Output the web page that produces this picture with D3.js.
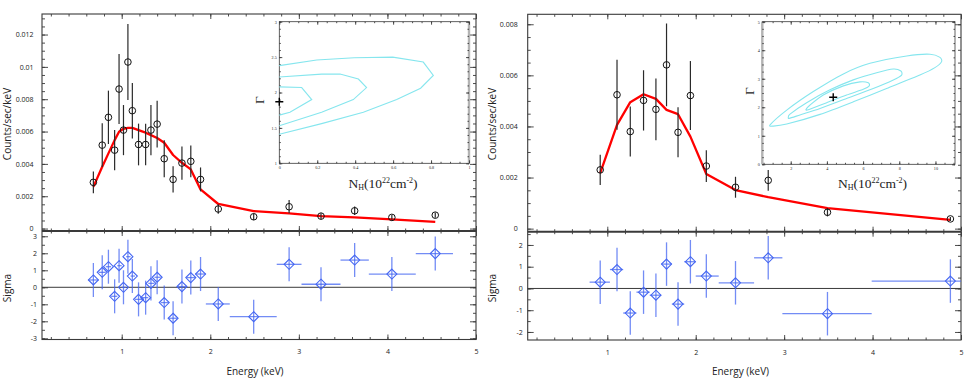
<!DOCTYPE html>
<html>
<head>
<meta charset="utf-8">
<script src="https://cdn.jsdelivr.net/npm/d3@7"></script>
<style>
  body { margin: 0; background: #fff; }
  svg { display: block; font-family: "Open Sans", sans-serif; }
</style>
</head>
<body>
<script>
// ---- left source: spectrum (counts/sec/keV), model and residuals ----
var leftEnergy   = [0.68, 0.78, 0.85, 0.92, 0.97, 1.02, 1.07, 1.12, 1.19, 1.27, 1.33, 1.40, 1.48, 1.58, 1.68, 1.78, 1.89, 2.09, 2.49, 2.89, 3.25, 3.63, 4.05, 4.54];
var leftBinEdges = [0.62, 0.74, 0.82, 0.88, 0.95, 1.00, 1.05, 1.10, 1.15, 1.23, 1.30, 1.37, 1.44, 1.53, 1.63, 1.73, 1.83, 1.95, 2.22, 2.75, 3.03, 3.47, 3.79, 4.32, 4.74];
var leftRate     = [0.00286, 0.00516, 0.00688, 0.00485, 0.00863, 0.00609, 0.0103, 0.00729, 0.0052, 0.0052, 0.00609, 0.00646, 0.00432, 0.00304, 0.00405, 0.00416, 0.00304, 0.00121, 0.00073, 0.00135, 0.00077, 0.0011, 0.00069, 0.00083];
var leftRateErr  = [0.00067, 0.00135, 0.00165, 0.00124, 0.00217, 0.00155, 0.00235, 0.00172, 0.00129, 0.00129, 0.00155, 0.00145, 0.00114, 0.00081, 0.00103, 0.00098, 0.00074, 0.00029, 0.0002, 0.00041, 0.00018, 0.00026, 0.00015, 0.00016];
var leftModel    = [0.00258, 0.00382, 0.00465, 0.00547, 0.00599, 0.00617, 0.00623, 0.00623, 0.00609, 0.00593, 0.00578, 0.0056, 0.00531, 0.00455, 0.00407, 0.00366, 0.00242, 0.00152, 0.00108, 0.00094, 0.00077, 0.00069, 0.00057, 0.00042];
var leftSigma    = [0.43, 0.88, 1.21, -0.53, 1.27, 0.0, 1.8, 0.66, -0.71, -0.61, 0.23, 0.59, -0.9, -1.82, 0.04, 0.57, 0.78, -0.98, -1.73, 1.35, 0.18, 1.6, 0.78, 1.98];
var leftRateTicks  = [0, 0.002, 0.004, 0.006, 0.008, 0.01, 0.012];
var leftSigmaTicks = [-3, -2, -1, 0, 1, 2, 3];

// left inset: confidence contours in (NH, Gamma)
var leftContourOuter = [[0, 2.38], [0.197, 2.46], [0.395, 2.49], [0.598, 2.50], [0.759, 2.43], [0.812, 2.24], [0.745, 2.06], [0.619, 1.90], [0.443, 1.72], [0.223, 1.56], [0, 1.41]];
var leftContourMid   = [[0, 2.22], [0.223, 2.26], [0.32, 2.26], [0.417, 2.19], [0.46, 2.07], [0.39, 1.90], [0.223, 1.72], [0, 1.53]];
var leftContourInner = [[0, 2.08], [0.118, 2.07], [0.171, 1.90], [0.056, 1.72], [0, 1.68]];
var leftBestFit  = [0, 1.87];
var leftNhTicks    = [0, 0.2, 0.4, 0.6, 0.8, 1];
var leftGammaTicks = [1, 1.5, 2, 2.5, 3];

// ---- right source ----
var rightEnergy   = [0.92, 1.11, 1.26, 1.41, 1.55, 1.67, 1.80, 1.94, 2.12, 2.45, 2.82, 3.49, 4.88];
var rightBinEdges = [0.80, 1.03, 1.18, 1.33, 1.48, 1.61, 1.73, 1.87, 2.00, 2.26, 2.66, 2.98, 3.99, 5.00];
var rightRate     = [0.0023, 0.00524, 0.0038, 0.00502, 0.00467, 0.00641, 0.00377, 0.00521, 0.00245, 0.00162, 0.00189, 0.00064, 0.00038];
var rightRateErr  = [0.00059, 0.00137, 0.00098, 0.00118, 0.00121, 0.00162, 0.00098, 0.00135, 0.00062, 0.00041, 0.00041, 0.00016, 0.00008];
var rightModel    = [0.00217, 0.00406, 0.00495, 0.00526, 0.00508, 0.00465, 0.00448, 0.0036, 0.00214, 0.00151, 0.00123, 0.0008, 0.00034];
var rightSigma    = [0.29, 0.87, -1.13, -0.17, -0.31, 1.12, -0.72, 1.23, 0.57, 0.26, 1.41, -1.16, 0.34];
var rightRateTicks  = [0, 0.002, 0.004, 0.006, 0.008];
var rightSigmaTicks = [-2, -1, 0, 1, 2];

var rightContourOuter = [[0.86, 1.38], [1.78, 1.90], [3.25, 2.55], [4.91, 3.17], [6.38, 3.54], [8.41, 3.80], [9.70, 3.86], [10.25, 3.75], [10.34, 3.60], [9.97, 3.39], [9.14, 3.13], [7.30, 2.66], [5.46, 2.19], [3.62, 1.75], [1.78, 1.41], [1.04, 1.34]];
var rightContourMid   = [[1.87, 1.65], [1.96, 1.76], [2.88, 2.16], [4.17, 2.61], [5.46, 2.96], [6.75, 3.21], [7.67, 3.34], [8.09, 3.27], [8.13, 3.13], [7.67, 2.96], [6.56, 2.66], [5.09, 2.31], [3.62, 1.96], [2.51, 1.73], [1.92, 1.61]];
var rightContourInner = [[2.85, 1.93], [3.07, 2.08], [3.80, 2.43], [4.91, 2.75], [5.83, 2.89], [6.29, 2.86], [6.34, 2.75], [6.01, 2.63], [5.09, 2.43], [3.99, 2.16], [3.16, 1.96], [2.88, 1.90]];
var rightBestFit  = [4.35, 2.35];
var rightNhTicks    = [2, 4, 6, 8, 10];
var rightGammaTicks = [0, 1, 2, 3, 4, 5];

var energyTicks = [1, 2, 3, 4, 5];

var frameColor = '#3a3a3a',
    modelColor = '#ff0000',
    resColor = '#4466f2',
    contourColor = '#86e6ee';

var svg = d3.select('body')
    .append('svg')
        .attr('width', 969)
        .attr('height', 383);

svg.append('rect').attr('width', 969).attr('height', 383).attr('fill', '#fff');

var panels = [
    {
        energy: leftEnergy, edges: leftBinEdges, rate: leftRate, err: leftRateErr,
        model: leftModel, sigma: leftSigma,
        rateTicks: leftRateTicks, sigmaTicks: leftSigmaTicks,
        contours: [leftContourOuter, leftContourMid, leftContourInner], closed: false,
        best: leftBestFit, nhTicks: leftNhTicks, gammaTicks: leftGammaTicks,
        nhMinor: d3.range(0, 1.001, 0.05), gammaMinor: d3.range(1, 3.001, 0.1),
        box: {x0: 42, x1: 476, y0: 14, ym: 231, y1: 339.5,
              rate: [-0.00015, 0.01327], sig: [-3.07, 3.31], ratePad: 8.5, sigPad: 5},
        inset: {x0: 279.3, x1: 469, y0: 21.7, y1: 163.3, nh: [0, 1], gamma: [1, 3], grayEdge: 'right',
                gx: 259, gy: 100, lx: 383},
        labelX: 7, energyX: 255
    },
    {
        energy: rightEnergy, edges: rightBinEdges, rate: rightRate, err: rightRateErr,
        model: rightModel, sigma: rightSigma,
        rateTicks: rightRateTicks, sigmaTicks: rightSigmaTicks,
        contours: [rightContourOuter, rightContourMid, rightContourInner], closed: true,
        best: rightBestFit, nhTicks: rightNhTicks, gammaTicks: rightGammaTicks,
        nhMinor: d3.range(0.5, 11.001, 0.5), gammaMinor: d3.range(0, 5.001, 0.25),
        box: {x0: 527.7, x1: 961, y0: 14.3, ym: 231.7, y1: 340,
              rate: [-0.00012, 0.00839], sig: [-2.37, 2.61], ratePad: 10, sigPad: 5},
        inset: {x0: 762.3, x1: 955, y0: 21.7, y1: 164.3, nh: [0.43, 11.08], gamma: [0, 5], grayEdge: 'left',
                gx: 749, gy: 91, lx: 872.5},
        labelX: 491.5, energyX: 740.5
    }
];

function tickSet(g, orient, scale, values, size, pos, fmt, pad, fontSize, family) {
    var axis = orient(scale)
        .tickValues(values)
        .tickSize(-size)
        .tickSizeOuter(0)
        .tickPadding(pad || 3)
        .tickFormat(fmt || '');
    var a = g.append('g')
        .attr('transform', pos)
        .call(axis)
        .attr('font-size', fontSize || 7)
        .attr('font-family', family || '"Open Sans", sans-serif');
    a.select('.domain').remove();
    a.selectAll('line').attr('stroke', frameColor).attr('stroke-width', 0.9);
    a.selectAll('text').attr('fill', '#222');
    return a;
}

var rateFmt = function(d) { return d === 0 ? '0' : d3.format('.3~f')(d); };
var sigFmt = function(d) { return d < 0 ? '-' + Math.abs(d) : String(d); };

panels.forEach(function(p) {
    var b = p.box;
    var x = d3.scaleLinear().domain([0.1, 5]).range([b.x0, b.x1]);
    var y = d3.scaleLinear().domain(b.rate).range([b.ym, b.y0]);
    var ys = d3.scaleLinear().domain(b.sig).range([b.y1, b.ym]);
    var g = svg.append('g');

    var minorE = d3.range(0.2, 4.999, 0.2);
    var minorRate = d3.range(0, b.rate[1], 0.0005);
    var minorSig = d3.range(Math.ceil(b.sig[0] * 2) / 2, b.sig[1], 0.5);

    // --- frame ticks, upper panel ---
    [[minorE, 2.5], [energyTicks, 5]].forEach(function(t) {
        tickSet(g, d3.axisTop, x, t[0], t[1], 'translate(0,' + b.y0 + ')');
        tickSet(g, d3.axisBottom, x, t[0], t[1], 'translate(0,' + b.ym + ')');
        tickSet(g, d3.axisTop, x, t[0], t[1], 'translate(0,' + b.ym + ')');
    });
    tickSet(g, d3.axisLeft, y, minorRate, 3, 'translate(' + b.x0 + ',0)');
    tickSet(g, d3.axisRight, y, minorRate, 3, 'translate(' + b.x1 + ',0)');
    tickSet(g, d3.axisLeft, y, p.rateTicks, 6, 'translate(' + b.x0 + ',0)', rateFmt, b.ratePad);
    tickSet(g, d3.axisRight, y, p.rateTicks, 6, 'translate(' + b.x1 + ',0)');

    // --- frame ticks, residual panel ---
    tickSet(g, d3.axisBottom, x, minorE, 2.5, 'translate(0,' + b.y1 + ')');
    tickSet(g, d3.axisBottom, x, energyTicks, 5, 'translate(0,' + b.y1 + ')', d3.format('d'), 10);
    tickSet(g, d3.axisLeft, ys, minorSig, 3, 'translate(' + b.x0 + ',0)');
    tickSet(g, d3.axisRight, ys, minorSig, 3, 'translate(' + b.x1 + ',0)');
    tickSet(g, d3.axisLeft, ys, p.sigmaTicks, 6, 'translate(' + b.x0 + ',0)', sigFmt, b.sigPad);
    tickSet(g, d3.axisRight, ys, p.sigmaTicks, 6, 'translate(' + b.x1 + ',0)');

    // frames
    g.append('rect')
        .attr('x', b.x0).attr('y', b.y0)
        .attr('width', b.x1 - b.x0).attr('height', b.y1 - b.y0)
        .attr('fill', 'none').attr('stroke', frameColor).attr('stroke-width', 1.1);
    g.append('line')
        .attr('x1', b.x0).attr('x2', b.x1).attr('y1', b.ym).attr('y2', b.ym)
        .attr('stroke', frameColor).attr('stroke-width', 2);
    g.append('line')
        .attr('x1', b.x0).attr('x2', b.x1).attr('y1', ys(0)).attr('y2', ys(0))
        .attr('stroke', frameColor).attr('stroke-width', 1);

    // --- inset contour plot ---
    var ib = p.inset;
    var ix = d3.scaleLinear().domain(ib.nh).range([ib.x0, ib.x1]);
    var iy = d3.scaleLinear().domain(ib.gamma).range([ib.y1, ib.y0]);
    var ig = g.append('g');
    ig.append('rect')
        .attr('x', ib.x0).attr('y', ib.y0)
        .attr('width', ib.x1 - ib.x0).attr('height', ib.y1 - ib.y0)
        .attr('fill', '#fff').attr('stroke', frameColor).attr('stroke-width', 0.8);
    var ex = ib.grayEdge === 'right' ? ib.x1 : ib.x0;
    ig.append('line')
        .attr('x1', ex).attr('x2', ex).attr('y1', ib.y0).attr('y2', ib.y1)
        .attr('stroke', '#b4b4b4').attr('stroke-width', 2.4);

    [[p.nhMinor, 1.5], [p.nhTicks, 3]].forEach(function(t) {
        tickSet(ig, d3.axisTop, ix, t[0], t[1], 'translate(0,' + ib.y0 + ')');
        tickSet(ig, d3.axisBottom, ix, t[0], t[1], 'translate(0,' + ib.y1 + ')',
                t[1] === 3 ? d3.format('~g') : '', 3, 4.2, '"Liberation Serif", serif');
    });
    [[p.gammaMinor, 1.5], [p.gammaTicks, 3]].forEach(function(t) {
        tickSet(ig, d3.axisLeft, iy, t[0], t[1], 'translate(' + ib.x0 + ',0)',
                t[1] === 3 ? d3.format('~g') : '', 2.5, 4.2, '"Liberation Serif", serif');
        tickSet(ig, d3.axisRight, iy, t[0], t[1], 'translate(' + ib.x1 + ',0)');
    });

    var contour = d3.line()
        .x(function(d) { return ix(d[0]); })
        .y(function(d) { return iy(d[1]); })
        .curve(p.closed ? d3.curveCardinalClosed.tension(0.3) : d3.curveLinear);
    ig.selectAll('path.contour')
        .data(p.contours)
        .enter()
        .append('path')
            .attr('class', 'contour')
            .attr('d', contour)
            .attr('fill', 'none')
            .attr('stroke', contourColor)
            .attr('stroke-width', 1.1);

    var bx = ix(p.best[0]), by = iy(p.best[1]);
    ig.append('path')
        .attr('d', 'M' + (bx - 4) + ',' + by + 'H' + (bx + 4) + 'M' + bx + ',' + (by - 4) + 'V' + (by + 4))
        .attr('stroke', '#000').attr('stroke-width', 1.4);

    var nh = ig.append('text')
        .attr('x', ib.lx).attr('y', 188)
        .attr('text-anchor', 'middle')
        .attr('font-family', '"Liberation Serif", "DejaVu Serif", serif')
        .attr('font-size', 13.5)
        .attr('fill', '#222');
    nh.append('tspan').text('N');
    nh.append('tspan').attr('font-size', 8).attr('dy', 2).text('H');
    nh.append('tspan').attr('dy', -2).text('(10');
    nh.append('tspan').attr('font-size', 8).attr('dy', -5).text('22');
    nh.append('tspan').attr('dy', 5).text('cm');
    nh.append('tspan').attr('font-size', 8).attr('dy', -5).text('-2');
    nh.append('tspan').attr('dy', 5).text(')');

    ig.append('text')
        .attr('transform', 'translate(' + ib.gx + ',' + ib.gy + ') rotate(-90)')
        .attr('text-anchor', 'middle')
        .attr('dominant-baseline', 'central')
        .attr('font-family', '"Liberation Serif", "DejaVu Serif", serif')
        .attr('font-size', 13.5)
        .attr('fill', '#222')
        .text('\u0393');

    // --- spectrum: model, error bars, points ---
    var idx = d3.range(p.energy.length);

    g.append('path')
        .datum(idx)
        .attr('d', d3.line()
            .x(function(i) { return x(p.energy[i]); })
            .y(function(i) { return y(p.model[i]); }))
        .attr('fill', 'none')
        .attr('stroke', modelColor)
        .attr('stroke-width', 2.3)
        .attr('stroke-linejoin', 'round');

    g.append('g')
        .selectAll('line')
        .data(idx)
        .enter()
        .append('line')
            .attr('x1', function(i) { return x(p.energy[i]); })
            .attr('x2', function(i) { return x(p.energy[i]); })
            .attr('y1', function(i) { return y(p.rate[i] - p.err[i]); })
            .attr('y2', function(i) { return y(p.rate[i] + p.err[i]); })
            .attr('stroke', '#2a2a2a')
            .attr('stroke-width', 1.2);

    g.append('g')
        .selectAll('circle')
        .data(idx)
        .enter()
        .append('circle')
            .attr('cx', function(i) { return x(p.energy[i]); })
            .attr('cy', function(i) { return y(p.rate[i]); })
            .attr('r', 3.3)
            .attr('fill', 'none')
            .attr('stroke', '#111')
            .attr('stroke-width', 1);

    // --- residuals (delchi) ---
    var rg = g.append('g')
        .attr('stroke', resColor)
        .attr('fill', 'none');
    rg.selectAll('line.h')
        .data(idx)
        .enter()
        .append('line')
            .attr('class', 'h')
            .attr('x1', function(i) { return x(p.edges[i]); })
            .attr('x2', function(i) { return x(p.edges[i + 1]); })
            .attr('y1', function(i) { return ys(p.sigma[i]); })
            .attr('y2', function(i) { return ys(p.sigma[i]); })
            .attr('stroke-width', 1.3)
            .attr('stroke-opacity', 0.75);
    rg.selectAll('line.v')
        .data(idx)
        .enter()
        .append('line')
            .attr('class', 'v')
            .attr('x1', function(i) { return x(p.energy[i]); })
            .attr('x2', function(i) { return x(p.energy[i]); })
            .attr('y1', function(i) { return ys(p.sigma[i] - 1); })
            .attr('y2', function(i) { return ys(p.sigma[i] + 1); })
            .attr('stroke-width', 1.3)
            .attr('stroke-opacity', 0.75);
    rg.selectAll('path')
        .data(idx)
        .enter()
        .append('path')
            .attr('d', function(i) {
                var cx = x(p.energy[i]), cy = ys(p.sigma[i]);
                return 'M' + cx + ',' + (cy - 5) + 'L' + (cx + 5) + ',' + cy +
                       'L' + cx + ',' + (cy + 5) + 'L' + (cx - 5) + ',' + cy + 'Z';
            })
            .attr('stroke-width', 1.1);

    // --- axis titles ---
    g.append('text')
        .attr('transform', 'translate(' + p.labelX + ',' + 124 + ') rotate(-90)')
        .attr('text-anchor', 'middle')
        .attr('dominant-baseline', 'central')
        .attr('font-size', 10)
        .attr('fill', '#222')
        .text('Counts/sec/keV');
    g.append('text')
        .attr('transform', 'translate(' + p.labelX + ',' + 288 + ') rotate(-90)')
        .attr('text-anchor', 'middle')
        .attr('dominant-baseline', 'central')
        .attr('font-size', 10)
        .attr('fill', '#222')
        .text('Sigma');
    g.append('text')
        .attr('x', p.energyX)
        .attr('y', 374.5)
        .attr('text-anchor', 'middle')
        .attr('font-size', 10)
        .attr('fill', '#222')
        .text('Energy (keV)');
});
</script>
</body>
</html>
